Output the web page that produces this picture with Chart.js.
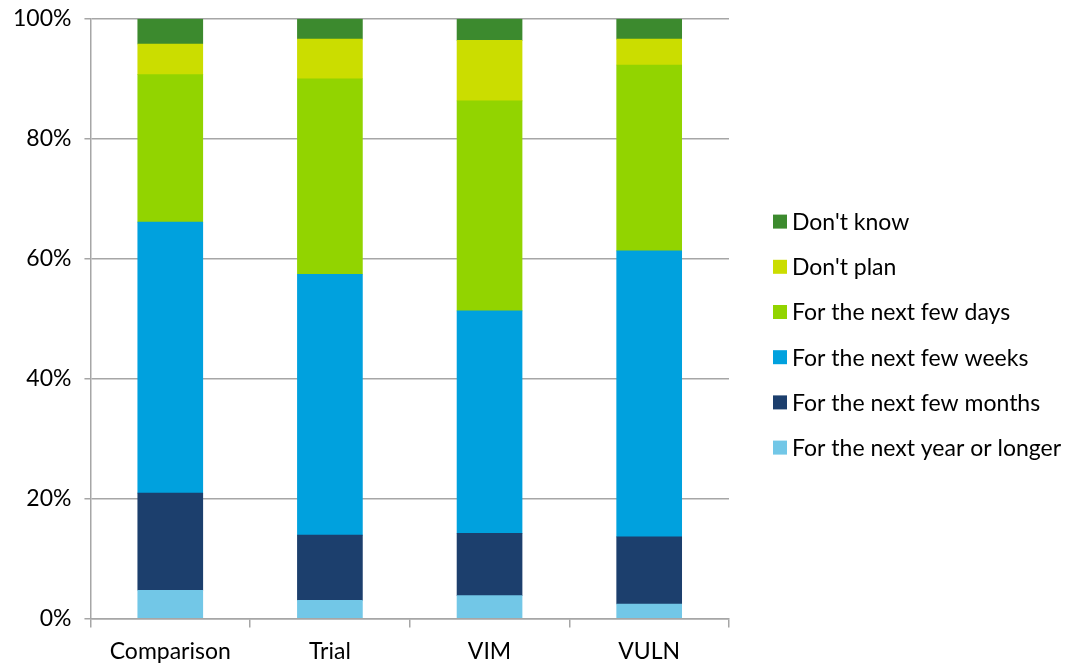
<!DOCTYPE html>
<html>
<head>
<meta charset="utf-8">
<script src="https://cdn.jsdelivr.net/npm/chart.js@4"></script>
<style>
html,body{margin:0;padding:0;background:#fff;overflow:hidden;}
#wrap{width:1077px;height:665px;position:relative;overflow:hidden;}
#c{position:absolute;left:0;top:-8px;}
</style>
</head>
<body>
<div id="wrap"><canvas id="c" width="1077" height="683"></canvas></div>
<script>
const categories = ["Comparison", "Trial", "VIM", "VULN"];
const seriesNames = ["For the next year or longer", "For the next few months", "For the next few weeks", "For the next few days", "Don't plan", "Don't know"];
const yearOrLonger = [4.7, 3.0, 3.8, 2.4];
const fewMonths   = [16.2, 10.9, 10.4, 11.2];
const fewWeeks    = [45.2, 43.5, 37.1, 47.7];
const fewDays     = [24.6, 32.6, 35.0, 31.0];
const dontPlan    = [5.1, 6.6, 10.1, 4.3];
const dontKnow    = [4.2, 3.4, 3.6, 3.4];
const yTicks = [0, 20, 40, 60, 80, 100];

const colors = ["#72C7E7", "#1C3F6D", "#00A1DE", "#92D400", "#CBDD00", "#3C8A2E"];
const values = [yearOrLonger, fewMonths, fewWeeks, fewDays, dontPlan, dontKnow];

const datasets = seriesNames.map((n, i) => ({
  label: n,
  data: values[i],
  backgroundColor: colors[i],
  borderWidth: 0,
  barThickness: 65
}));

const FONT = "Lato, 'Open Sans', sans-serif";
const FSIZE = 23;
Chart.defaults.font.family = FONT;
Chart.defaults.color = "#000";

// Legend drawn beside the plot area, in reverse dataset order (as in the reference)
const sideLegend = {
  id: "sideLegend",
  afterDraw(chart) {
    const ctx = chart.ctx;
    const ds = chart.data.datasets;
    const area = chart.chartArea;
    const boxX = area.right + 44;
    const spacing = 45.2;
    const n = ds.length;
    const midY = (area.top + area.bottom) / 2 + 16;
    const startY = midY - spacing * (n - 1) / 2;
    ctx.save();
    ctx.font = FSIZE + "px " + FONT;
    ctx.textBaseline = "middle";
    ctx.textAlign = "left";
    for (let k = 0; k < n; k++) {
      const d = ds[n - 1 - k];
      const y = startY + k * spacing;
      ctx.fillStyle = d.backgroundColor;
      ctx.fillRect(boxX, y - 7, 14, 14);
      ctx.fillStyle = "#000";
      ctx.fillText(d.label, boxX + 19, y + 1);
    }
    ctx.restore();
  }
};

new Chart(document.getElementById("c"), {
  type: "bar",
  data: { labels: categories, datasets },
  plugins: [sideLegend],
  options: {
    responsive: false,
    animation: false,
    layout: { padding: { top: 1, right: 348, left: 0, bottom: 0 } },
    plugins: {
      tooltip: { enabled: false },
      legend: { display: false }
    },
    scales: {
      x: {
        stacked: true,
        offset: true,
        grid: {
          offset: true,
          drawOnChartArea: false,
          drawTicks: true,
          tickLength: 9,
          color: "#A6A6A6",
          lineWidth: 1.5
        },
        border: { color: "#A6A6A6", width: 1.5 },
        ticks: { font: { size: FSIZE, family: FONT }, color: "#000", padding: 10 }
      },
      y: {
        stacked: true,
        min: 0,
        max: 100,
        afterBuildTicks: (axis) => { axis.ticks = yTicks.map(v => ({ value: v })); },
        grid: {
          color: "#A6A6A6",
          lineWidth: 1.5,
          tickLength: 6
        },
        border: { color: "#A6A6A6", width: 1.5 },
        ticks: {
          font: { size: FSIZE, family: FONT },
          color: "#000",
          padding: 13,
          callback: (v) => v + "%"
        }
      }
    }
  }
});
</script>
</body>
</html>
